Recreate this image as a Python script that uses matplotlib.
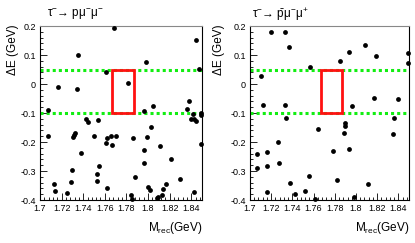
import matplotlib
matplotlib.use("Agg")
import matplotlib.pyplot as plt
from matplotlib.ticker import AutoMinorLocator
from matplotlib.patches import Rectangle

plt.rcParams['font.family'] = ['Liberation Sans', 'DejaVu Sans']
plt.rcParams['mathtext.fontset'] = 'custom'
plt.rcParams['mathtext.rm'] = 'Liberation Sans'
plt.rcParams['mathtext.it'] = 'Liberation Sans'
plt.rcParams['mathtext.bf'] = 'Liberation Sans:bold'

# Left panel: tau- -> p mu- mu-
left_m = [1.7686, 1.844, 1.7349, 1.7977, 1.847, 1.7612, 1.7813, 1.717, 1.7343, 1.7071,
          1.7961, 1.8045, 1.8381, 1.836, 1.8418, 1.8397, 1.843, 1.844, 1.849, 1.8495,
          1.849, 1.7423, 1.7442, 1.7535, 1.7074, 1.7321, 1.7312, 1.7303, 1.7498, 1.7624,
          1.7661, 1.7705, 1.7609, 1.7667, 1.7865, 1.8032, 1.7995, 1.8112, 1.7961, 1.7964,
          1.8214, 1.7377, 1.755, 1.7297, 1.7525, 1.7525, 1.7287, 1.7127, 1.7139, 1.725,
          1.7624, 1.7884, 1.7841, 1.7856, 1.8001, 1.8014, 1.8085, 1.8131, 1.8143, 1.8168,
          1.8295, 1.8428, 1.8095]
left_de = [0.192, 0.153, 0.099, 0.076, 0.051, 0.040, 0.003, -0.009, -0.018, -0.090,
           -0.092, -0.075, -0.059, -0.085, -0.103, -0.120, -0.122, -0.126, -0.101, -0.106,
           -0.208, -0.120, -0.131, -0.125, -0.178, -0.168, -0.176, -0.184, -0.178, -0.186,
           -0.179, -0.179, -0.203, -0.211, -0.185, -0.148, -0.182, -0.214, -0.229, -0.271,
           -0.257, -0.239, -0.283, -0.295, -0.310, -0.334, -0.338, -0.344, -0.370, -0.377,
           -0.359, -0.322, -0.384, -0.398, -0.354, -0.367, -0.392, -0.383, -0.361, -0.346,
           -0.326, -0.371, -0.388]

# Right panel: tau- -> pbar mu- mu+
right_m = [1.7199, 1.7327, 1.7372, 1.8086, 1.7936, 1.7849, 1.8186, 1.8487, 1.8487, 1.7567,
           1.7103, 1.7119, 1.733, 1.7343, 1.7964, 1.8173, 1.8397, 1.8362, 1.8349, 1.7638,
           1.7897, 1.79, 1.7887, 1.7936, 1.7782, 1.726, 1.707, 1.7157, 1.707, 1.7157,
           1.7272, 1.7558, 1.7817, 1.8115, 1.7375, 1.7163, 1.7423, 1.7516, 1.7612, 1.7984]
right_de = [0.178, 0.178, 0.128, 0.136, 0.111, 0.080, 0.097, 0.108, 0.071, 0.059,
            0.028, -0.074, -0.074, -0.118, -0.076, -0.048, -0.053, -0.116, -0.171, -0.156,
            -0.133, -0.145, -0.170, -0.223, -0.230, -0.200, -0.240, -0.233, -0.289, -0.284,
            -0.271, -0.317, -0.331, -0.345, -0.342, -0.372, -0.380, -0.368, -0.397, -0.390]

band_lines = [0.05, -0.1]
signal_box_m = [1.767, 1.787]
signal_box_de = [-0.1, 0.05]
x_ticks = [1.7, 1.72, 1.74, 1.76, 1.78, 1.8, 1.82, 1.84]
x_tick_labels = ["1.7", "1.72", "1.74", "1.76", "1.78", "1.8", "1.82", "1.84"]
y_ticks = [-0.4, -0.3, -0.2, -0.1, 0, 0.1, 0.2]
y_tick_labels = ["-0.4", "-0.3", "-0.2", "-0.1", "0", "0.1", "0.2"]

titles = [r"τ$^{-}$→ pμ$^{-}$μ$^{-}$",
          r"τ$^{-}$→ $\bar{\mathrm{p}}$μ$^{-}$μ$^{+}$"]

W, H = 415, 243
fig = plt.figure(figsize=(W / 100, H / 100), dpi=100)

panels = [
    (left_m, left_de, [40, 26, 202, 200], 13, 47),
    (right_m, right_de, [250, 26, 409, 200], 219, 252),
]

for i, (m, de, box, ylab_x, title_x) in enumerate(panels):
    x0, y0, x1, y1 = box
    ax = fig.add_axes([x0 / W, 1 - y1 / H, (x1 - x0) / W, (y1 - y0) / H])
    ax.set_xlim(1.7, 1.85)
    ax.set_ylim(-0.4, 0.2)
    for yv in band_lines:
        ax.axhline(yv, color='#11ee11', linestyle=(0, (1, 1)), linewidth=2.2, zorder=2)
    ax.add_patch(Rectangle((signal_box_m[0], signal_box_de[0]),
                           signal_box_m[1] - signal_box_m[0],
                           signal_box_de[1] - signal_box_de[0],
                           fill=False, edgecolor='#ff1111', linewidth=2.0, zorder=3))
    ax.scatter(m, de, s=12, color='black', zorder=4, linewidths=0, clip_on=False)
    ax.set_xticks(x_ticks)
    ax.set_xticklabels(x_tick_labels)
    ax.set_yticks(y_ticks)
    ax.set_yticklabels(y_tick_labels)
    ax.xaxis.set_minor_locator(AutoMinorLocator(5))
    ax.yaxis.set_minor_locator(AutoMinorLocator(5))
    ax.tick_params(which='both', direction='in', top=False, right=False, labelsize=6.5, pad=3)
    ax.tick_params(which='major', length=5, width=0.6)
    ax.tick_params(which='minor', length=2.5, width=0.6)
    for sp in ax.spines.values():
        sp.set_linewidth(0.8)
    ax.spines['top'].set_color('#888888')
    fig.text(x1 / W, 1 - 228 / H, r"M$_{\mathrm{rec}}$(GeV)", ha='right', va='center', fontsize=8.5)
    fig.text(ylab_x / W, 1 - 24 / H, r"ΔE (GeV)", rotation=90, ha='center', va='top', fontsize=8.5)
    fig.text(title_x / W, 1 - 15 / H, titles[i], ha='left', va='center', fontsize=8.5)

fig.savefig("out.png", dpi=100)
